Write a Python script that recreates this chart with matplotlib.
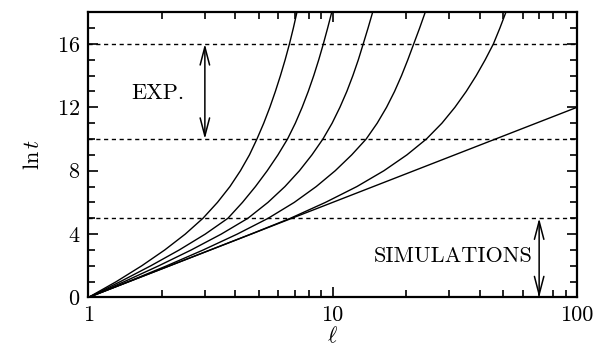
import matplotlib
matplotlib.use("Agg")
import matplotlib.pyplot as plt
from matplotlib.patches import FancyArrowPatch
from matplotlib.ticker import LogLocator, MultipleLocator, NullFormatter

plt.rcParams['font.family'] = ['cmr10', 'DejaVu Serif']
plt.rcParams['mathtext.fontset'] = 'cm'
plt.rcParams['axes.formatter.use_mathtext'] = True
plt.rcParams['font.size'] = 16

# ell at which each curve reaches ln t = 0, 1, ..., 18
lnt_levels = list(range(19))
ell_c1 = [1, 1.302, 1.655, 2.056, 2.494, 2.947, 3.378, 3.800, 4.195, 4.567,
          4.901, 5.225, 5.534, 5.829, 6.115, 6.392, 6.657, 6.906, 7.144]
ell_c2 = [1, 1.352, 1.802, 2.357, 3.011, 3.729, 4.275, 4.832, 5.400, 5.973,
          6.538, 7.037, 7.503, 7.946, 8.369, 8.773, 9.161, 9.540, 9.916]
ell_c3 = [1, 1.404, 1.943, 2.639, 3.501, 4.502, 5.436, 6.380, 7.314, 8.228,
          9.127, 9.953, 10.71, 11.43, 12.10, 12.74, 13.34, 13.96, 14.58]
ell_c4 = [1, 1.458, 2.095, 2.955, 4.071, 5.451, 6.965, 8.569, 10.25, 11.97,
          13.72, 15.22, 16.62, 17.92, 19.14, 20.31, 21.47, 22.70, 23.93]
ell_c5 = [1, 1.467, 2.153, 3.156, 4.632, 6.720, 9.345, 12.57, 16.22, 20.14,
          24.20, 28.01, 31.65, 35.21, 38.69, 42.11, 45.49, 48.36, 51.18]

# power-law limit (straight line on the log axis)
ell_line = [1, 100]
lnt_line = [0, 12]

# time windows
exp_window = [10, 16]
sim_window = [0, 5]
exp_arrow_x = 3.0
sim_arrow_x = 70

fig = plt.figure(figsize=(6.08, 3.46), dpi=100)
ax = fig.add_axes([0.1452, 0.1402, 0.8038, 0.8245])

for ell in [ell_c1, ell_c2, ell_c3, ell_c4, ell_c5]:
    ax.plot(ell, lnt_levels, color='black', lw=1.0)
ax.plot(ell_line, lnt_line, color='black', lw=1.0)

for y in [sim_window[1], exp_window[0], exp_window[1]]:
    ax.axhline(y, color='black', lw=1.0, ls=(0, (3, 2.6)))

for x, (y0, y1) in [(exp_arrow_x, exp_window), (sim_arrow_x, sim_window)]:
    arr = FancyArrowPatch((x, y0), (x, y1), arrowstyle='<->,head_length=13,head_width=3.4',
                          mutation_scale=1, color='black', lw=1.1, shrinkA=0, shrinkB=0)
    ax.add_patch(arr)

ax.text(1.92, 12.9, 'EXP.', ha='center', va='center', fontsize=16)
ax.text(31, 2.6, 'SIMULATIONS', ha='center', va='center', fontsize=16)

ax.set_xscale('log')
ax.set_xlim(1, 100)
ax.set_ylim(0, 18)
ax.set_xticks([1, 10, 100], labels=['1', '10', '100'])
ax.xaxis.set_minor_locator(LogLocator(base=10, subs=range(2, 10)))
ax.xaxis.set_minor_formatter(NullFormatter())
ax.set_yticks([0, 4, 8, 12, 16])
ax.yaxis.set_minor_locator(MultipleLocator(1))

ax.tick_params(which='both', direction='in', top=True, right=True, width=1.2)
ax.tick_params(which='major', length=7.5, pad=6)
ax.tick_params(which='minor', length=5)
for s in ax.spines.values():
    s.set_linewidth(1.6)

ax.set_xlabel(r'$\ell$', labelpad=0.5)
ax.set_ylabel(r'$\ln t$', labelpad=10)

fig.savefig('out.png', dpi=100)
